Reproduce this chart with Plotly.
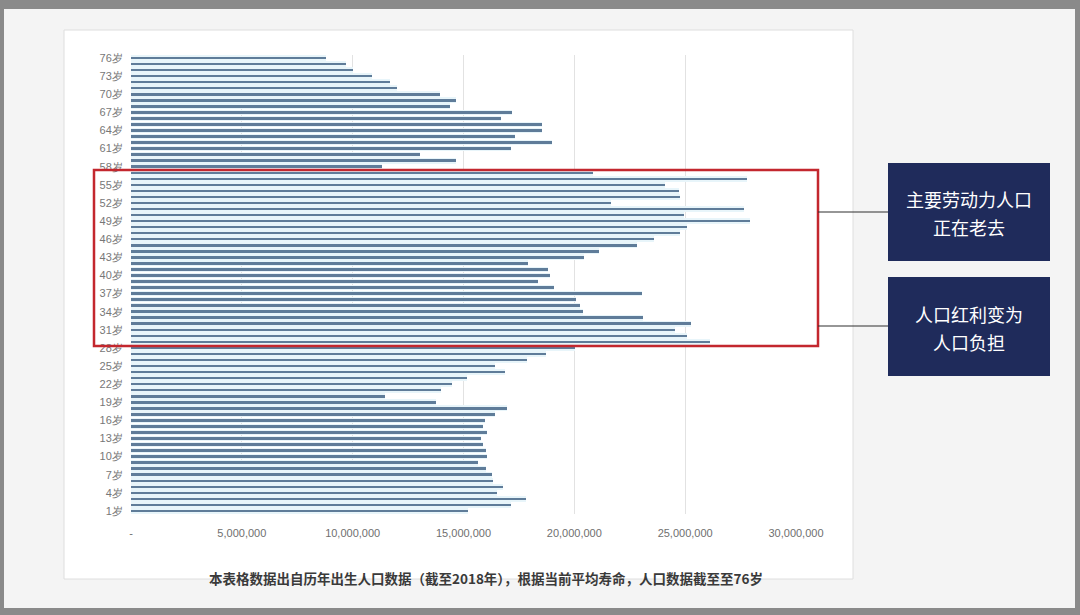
import plotly.graph_objects as go

# ages 1..76 and number of people born in each year (millions)
ages = list(range(1, 77))
people_m = [
    15.19, 17.16, 17.82, 16.50, 16.79, 16.31, 16.29, 16.02, 15.66, 16.06,   # 1-10
    16.03, 15.90, 15.81, 16.08, 15.90, 15.97, 16.42, 16.94, 13.76, 11.45,   # 11-20
    13.97, 14.47, 15.18, 16.87, 16.42, 17.87, 18.71, 20.04, 26.10, 25.09,   # 21-30
    24.53, 25.25, 23.12, 20.40, 20.27, 20.07, 23.05, 19.06, 18.34, 18.90,   # 31-40
    18.79, 17.89, 20.43, 21.10, 22.83, 23.59, 24.75, 25.09, 27.94, 24.96,   # 41-50
    27.65, 21.66, 24.75, 24.73, 24.08, 27.80, 20.85, 11.34, 14.65, 13.02,   # 51-60
    17.13, 19.00, 17.34, 18.55, 18.52, 16.68, 17.19, 14.40, 14.68, 13.92,   # 61-70
    12.02, 11.69, 10.85, 10.00, 9.68, 8.79,                                 # 71-76
]
people = [v * 1_000_000 for v in people_m]

tick_ages = list(range(1, 77, 3))
tick_age_text = [f"{a}岁" for a in tick_ages]
x_ticks = [0, 5_000_000, 10_000_000, 15_000_000, 20_000_000, 25_000_000, 30_000_000]
x_tick_text = ["-", "5,000,000", "10,000,000", "15,000,000", "20,000,000", "25,000,000", "30,000,000"]

box_lines = [["主要劳动力人口", "正在老去"], ["人口红利变为", "人口负担"]]
footer = "本表格数据出自历年出生人口数据（截至2018年），根据当前平均寿命，人口数据截至至76岁"

W, H = 1080, 615
L, R, T, B = 131, 796, 55, 514


def px(x, y):
    # pixel position -> paper coords
    return (x - L) / (R - L), (B - y) / (B - T)


fig = go.Figure()
# pale glow behind the bars
fig.add_trace(go.Bar(x=people, y=ages, orientation="h", width=0.95,
                     marker=dict(color="#e8f5fa", line=dict(width=0)),
                     hoverinfo="skip", showlegend=False))
fig.add_trace(go.Bar(x=people, y=ages, orientation="h", width=0.42,
                     marker=dict(color="#5f7c99", line=dict(width=0)),
                     showlegend=False))

shapes = []


def rect(x0, y0, x1, y1, **kw):
    a0, b0 = px(x0, y0)
    a1, b1 = px(x1, y1)
    shapes.append(dict(type="rect", xref="paper", yref="paper",
                       x0=a0, y0=b0, x1=a1, y1=b1, **kw))


def line(x0, y0, x1, y1, **kw):
    a0, b0 = px(x0, y0)
    a1, b1 = px(x1, y1)
    shapes.append(dict(type="line", xref="paper", yref="paper",
                       x0=a0, y0=b0, x1=a1, y1=b1, **kw))


# photo frame
rect(0, 0, W, 9, fillcolor="#8a8a8a", line=dict(width=0), layer="below")
rect(0, 608, W, H, fillcolor="#8a8a8a", line=dict(width=0), layer="below")
rect(0, 0, 4, H, fillcolor="#8a8a8a", line=dict(width=0), layer="below")
rect(1075, 0, W, H, fillcolor="#8a8a8a", line=dict(width=0), layer="below")
# white chart sheet
rect(64, 30, 853, 579, fillcolor="white", line=dict(color="#dedede", width=1), layer="below")
# red highlight box
rect(94, 170, 818, 346, fillcolor="rgba(0,0,0,0)", line=dict(color="#c3272e", width=2.5))
# connectors
line(818, 212, 888, 212, line=dict(color="#2e2e2e", width=1.2))
line(818, 326, 888, 326, line=dict(color="#2e2e2e", width=1.2))
# navy boxes
rect(888, 163, 1050, 261, fillcolor="#1f2b5b", line=dict(width=0))
rect(888, 277, 1050, 376, fillcolor="#1f2b5b", line=dict(width=0))

annotations = []
for pair, ys in zip(box_lines, [[199, 227], [314, 342]]):
    for txt, yc in zip(pair, ys):
        ax, ay = px(969, yc)
        annotations.append(dict(x=ax, y=ay, xref="paper", yref="paper", text=txt,
                                xanchor="center", yanchor="middle", showarrow=False,
                                borderpad=0,
                                font=dict(family="Noto Sans CJK SC", size=18, color="white")))
fx, fy = px(486, 578)
annotations.append(dict(x=fx, y=fy, xref="paper", yref="paper", text=f"<b>{footer}</b>",
                        xanchor="center", yanchor="middle", showarrow=False,
                        font=dict(family="Noto Sans CJK SC", size=13.5, color="#3a3a3a")))

fig.update_layout(
    width=W, height=H,
    margin=dict(l=L, r=W - R, t=T, b=H - B),
    paper_bgcolor="#f4f4f4",
    plot_bgcolor="rgba(0,0,0,0)",
    barmode="overlay",
    bargap=0,
    shapes=shapes,
    annotations=annotations,
    font=dict(family="Liberation Sans", color="#7a7a7a"),
)
fig.update_xaxes(range=[0, 30_000_000], tickvals=x_ticks, ticktext=x_tick_text,
                 showgrid=True, gridcolor="#e2e2e2", gridwidth=1, zeroline=False,
                 ticks="outside", ticklen=9, tickcolor="rgba(0,0,0,0)",
                 tickfont=dict(size=11, color="#6f6f6f"), showline=False)
fig.update_yaxes(range=[0.5, 76.5], tickvals=tick_ages, ticktext=tick_age_text,
                 showgrid=False, zeroline=False, ticks="outside", ticklen=5,
                 tickcolor="rgba(0,0,0,0)", tickfont=dict(size=11, color="#777777"))

# drop the page's default body margin so the figure fills the window
fig.write_html("out.html", config={"displayModeBar": False},
               post_script="document.body.style.margin='0px';")
